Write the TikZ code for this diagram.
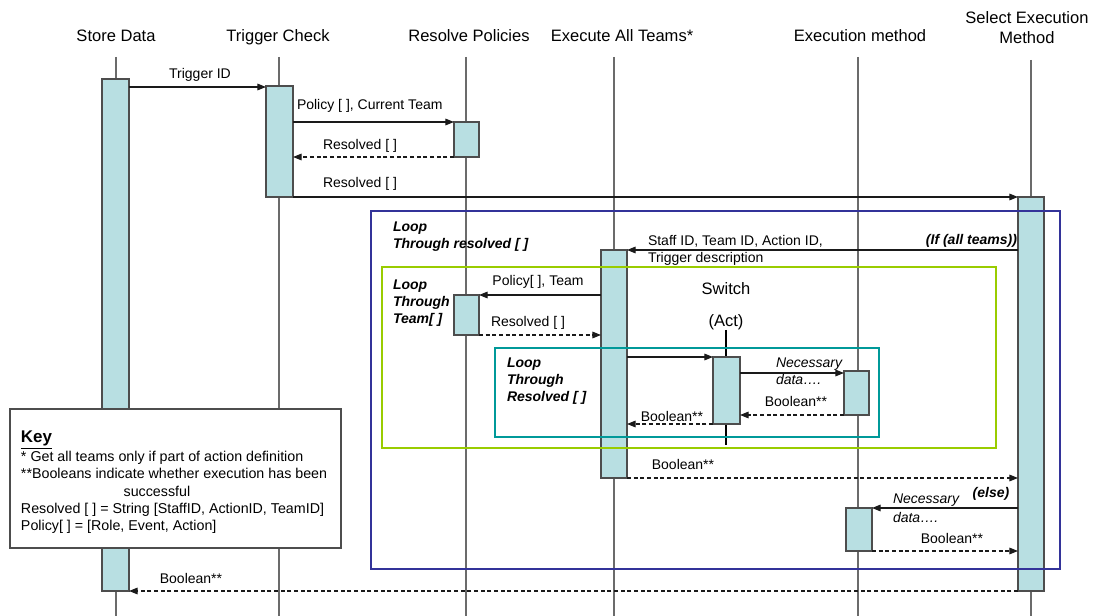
\documentclass[tikz,border=0pt]{standalone}
\usepackage{fontspec}
\setmainfont{Liberation Sans}
\usetikzlibrary{arrows.meta,fit}
\definecolor{actfill}{HTML}{B8DFE2}
\definecolor{actline}{HTML}{4D4D4D}
\definecolor{lifegrey}{HTML}{6B6B6B}
\definecolor{msgline}{HTML}{1A1A1A}
\definecolor{loopblue}{HTML}{333399}
\definecolor{loopgreen}{HTML}{99CC00}
\definecolor{loopteal}{HTML}{009999}
\begin{document}
\begin{tikzpicture}[x=0.75pt,y=-0.75pt,
  every node/.style={inner sep=0pt, outer sep=0pt},
  head/.style={font=\fontsize{12.4}{15}\selectfont, align=center},
  lbl/.style={font=\fontsize{10.5}{12.75}\selectfont, align=left},
  looplbl/.style={lbl, font=\fontsize{10.5}{12.75}\selectfont\bfseries\itshape},
  life/.style={draw=lifegrey, line width=0.8pt},
  act/.style={draw=actline, fill=actfill, line width=0.9pt},
  msg/.style={draw=msgline, line width=0.8pt, -{Triangle[length=6.5pt,width=5pt]}},
  reply/.style={msg, dash pattern=on 3pt off 2pt},
  loopframe/.style={line width=2.2pt},
  keyframe/.style={draw=actline, fill=white, line width=0.8pt},
]
\useasboundingbox (0,0) rectangle (1097,616);

% participants
\node[head, anchor=base] (hSD) at (116,42) {Store Data};
\node[head, anchor=base] (hTC) at (278,42) {Trigger Check};
\node[head, anchor=base] (hRP) at (469,42) {Resolve Policies};
\node[head, anchor=base] (hEX) at (622,42) {Execute All Teams*};
\node[head, anchor=base] (hEM) at (860,42) {Execution method};
\node[head, anchor=north] (hSE) at (1027,12) {Select Execution\\Method};

% lifelines
\coordinate (lSD) at (116,57);
\coordinate (lTC) at (279,57);
\coordinate (lRP) at (466,57);
\coordinate (lEX) at (614,57);
\coordinate (lEM) at (858,57);
\coordinate (lSE) at (1031,60);
\foreach \l in {lSD,lTC,lRP,lEX,lEM,lSE}
  \draw[life] (\l) -- (\l |- 0,616);
\coordinate (lSW) at (726,330);
\draw[draw=black, line width=0.8pt] (lSW) -- (lSW |- 0,445);

% activation bars
\node[act, fit={(102,79) (129,591)}] (sdA) {};
\node[act, fit={(266,86) (293,197)}] (tcA) {};
\node[act, fit={(454,122) (479,157)}] (rpA) {};
\node[act, fit={(1018,197) (1044,591)}] (seA) {};
\node[act, fit={(601,250) (627,478)}] (exA) {};
\node[act, fit={(454,295) (479,335)}] (rpB) {};
\node[act, fit={(713,357) (740,424)}] (swA) {};
\node[act, fit={(844,371) (869,415)}] (emA) {};
\node[act, fit={(846,508) (872,551)}] (emB) {};

% messages
\draw[msg] (sdA.east |- 0,87) -- (tcA.west |- 0,87);
\draw[msg] (tcA.east |- rpA.north west) -- (rpA.north west);
\draw[reply] (rpA.south west) -- (tcA.east |- rpA.south west);
\draw[msg] (tcA.south east) -- (seA.north west);
\draw[msg] (seA.west |- exA.north east) -- (exA.north east);
\draw[msg] (exA.west |- rpB.north east) -- (rpB.north east);
\draw[reply] (rpB.south east) -- (exA.west |- rpB.south east);
\draw[msg] (exA.east |- swA.north west) -- (swA.north west);
\draw[msg] (swA.east |- 0,373) -- (emA.west |- 0,373);
\draw[reply] (emA.south west) -- (swA.east |- emA.south west);
\draw[reply] (swA.south west) -- (exA.east |- swA.south west);
\draw[reply] (exA.south east) -- (seA.west |- exA.south east);
\draw[msg] (seA.west |- emB.north east) -- (emB.north east);
\draw[reply] (emB.south east) -- (seA.west |- emB.south east);
\draw[reply] (seA.south west) -- (sdA.south east);

% loop frames
\node[loopframe, draw=loopblue, fit={(371,211) (1060,569)}] (loopR) {};
\node[loopframe, draw=loopgreen, fit={(382,267) (996,448)}] (loopT) {};
\node[loopframe, draw=loopteal, fit={(495,348) (879,437)}] (loopA) {};

% message labels
\node[lbl, anchor=base] (mTrig) at (200,79) {Trigger ID};
\node[lbl, anchor=base west] (mPol) at (297,110) {Policy [ ], Current Team};
\node[lbl, anchor=base] (mRes1) at (360,150) {Resolved [ ]};
\node[lbl, anchor=base] (mRes2) at (360,188) {Resolved [ ]};
\node[lbl, anchor=north west] (mStaff) at (648,235) {Staff ID, Team ID, Action ID,\\Trigger description};
\node[looplbl, anchor=base east] (mIf) at (1017,245) {(If (all teams))};
\node[lbl, anchor=base] (mPolT) at (538,286) {Policy[ ], Team};
\node[lbl, anchor=base] (mRes3) at (528,327) {Resolved [ ]};
\node[lbl, anchor=north west, font=\fontsize{10.5}{12.75}\selectfont\itshape] (mNec1) at (776,358) {Necessary\\data….};
\node[lbl, anchor=base] (mBool1) at (796,407) {Boolean**};
\node[lbl, anchor=base] (mBool2) at (672,422) {Boolean**};
\node[lbl, anchor=base] (mBool3) at (683,470) {Boolean**};
\node[looplbl, anchor=base] (mElse) at (991,498) {(else)};
\node[lbl, anchor=north west, font=\fontsize{10.5}{12.75}\selectfont\itshape] (mNec2) at (893,494) {Necessary\\[1.5pt]data….};
\node[lbl, anchor=base] (mBool4) at (952,544) {Boolean**};
\node[lbl, anchor=base] (mBool5) at (191,584) {Boolean**};

% switch heading
\node[head, anchor=base] (swT) at (726,295) {Switch};
\node[head, anchor=base] (swB) at (726,327) {(Act)};

% loop labels
\node[looplbl, anchor=north west] (lpR) at (393,222) {Loop\\Through resolved [ ]};
\node[looplbl, anchor=north west] (lpT) at (393,280) {Loop\\Through\\Team[ ]};
\node[looplbl, anchor=north west] (lpA) at (507,358) {Loop\\Through\\Resolved [ ]};

% key
\node[keyframe, fit={(10,409) (341,548)}] (keyB) {};
\node[anchor=base west, font=\fontsize{12.7}{15}\selectfont\bfseries] (keyH) at (21,443) {\underline{Key}};
\node[lbl, anchor=north west, font=\fontsize{10.7}{13}\selectfont] (keyT) at (21,451)
  {* Get all teams only if part of action definition\\
   **Booleans indicate whether execution has been\\
   \hspace*{77pt}successful\\
   Resolved [ ] = String [StaffID, ActionID, TeamID]\\
   Policy[ ] = [Role, Event, Action]};
\end{tikzpicture}
\end{document}
